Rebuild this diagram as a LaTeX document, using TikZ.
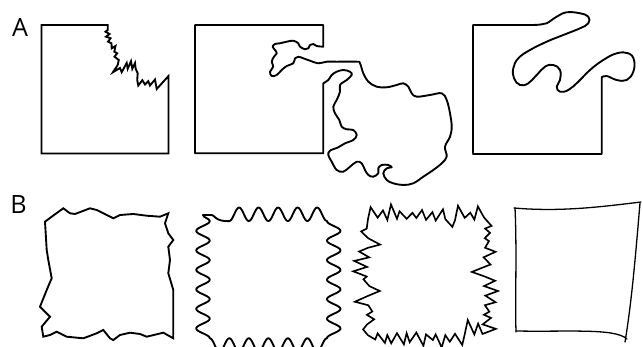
\documentclass[tikz,border=0pt]{standalone}
\usepackage{fontspec}
\setmainfont{Open Sans}
\usetikzlibrary{decorations.pathmorphing}
\def\spk{(rnd<0.7?1:-1)*(4+11*rnd)}
\begin{document}
\begin{tikzpicture}[x=.03cm,y=-.03cm,line cap=round,line join=round,
  outline/.style={line width=1.6pt},
  panel/.style={font=\fontsize{21.5}{25}\selectfont,inner sep=0pt}]
\useasboundingbox (0,0) rectangle (643,347);

\node[panel] (labA) at (20,27) {A};
\node[panel] (labB) at (18.5,204.5) {B};

% row A
\draw[outline,line join=miter] (41.5,153.5) -- (41.5,25) -- (107.7,25) -- plot coordinates {
  (107.7,30) (105.5,31.7) (109.5,34) (106,36.7) (110.5,38.3) (108,41.7) (111.5,43.3)
  (111.7,48.3) (115.5,46) (114.3,51.7) (117.2,53.3) (114.5,56.7) (118.8,60) (117.7,65)
  (113,72.2) (120,68) (121.7,72.2) (126.7,63) (127.7,68.8) (131,61.2) (132.3,68.8)
  (135,63) (135.7,68.8) (137.7,73.3) (137.2,80) (138.3,85.5) (142.3,80.2) (145,84.5)
  (148.3,81.2) (150,85.5) (155,79.5) (156.7,89) (168.5,76)} -- (168.5,153.5) -- cycle;

\draw[outline] (195,25) -- (323.3,25) -- (323.3,46.7) -- plot[smooth,tension=.6] coordinates {
  (323.3,46.7) (316.7,46) (313.3,44) (310,45) (308.3,48.3) (305,49.3) (300,46.7)
  (298.3,43.3) (293.3,40.7) (286.7,41.7) (280,43.3) (275,44) (272.7,46.7) (275,50)
  (276.7,53.3) (274,56.7) (271.7,61.7) (273.3,66.7) (270,71.7) (271.7,76) (276.7,75)
  (281.7,70) (286.7,66) (293.3,63.3) (295,58.3) (298.3,56.7) (303.3,58.3) (310,60.7)
  (318.3,63.3) (326.7,61.7) (336.7,61.7) (356.7,61.7) (360,63.3) (363.3,73.3)
  (368.3,81.7) (376.7,86.7) (386.7,87.3) (396.7,85) (403.3,83.3) (408.3,86.7)
  (411.7,93.3) (416.7,96.7) (430,95) (441.7,93.3) (446.7,100) (450,113.3) (451.7,126.7)
  (450,136.7) (445,146.7) (446.7,156.7) (441.7,163.3) (433.3,170) (423.3,176.7)
  (413.3,183.3) (403.3,185) (393.3,183.3) (386.7,180) (383.3,173.3) (386.7,168.3)
  (391.7,167.3) (388.3,165) (381.7,165) (378.3,168.3) (378.3,173.3) (373.3,176.7)
  (368.3,175) (365,170) (361.7,163.3) (356.7,161.7) (350,166.7) (343.3,171.7)
  (336.7,170) (331.7,161.7) (328.3,155) (330,150.7) (338.3,147.3) (345,143.3)
  (353.3,140) (356.7,135) (353.3,130) (346.7,129.3) (341.7,126.7) (339.3,120)
  (335,113.3) (333.3,106.7) (336.7,100) (340,91.7) (340,85) (346.7,80) (351.7,75)
  (350,71.7) (343.3,70) (336.7,71.7) (331.7,75) (328.3,80) (323.3,83.3)}
  -- (323.3,153.3) -- (195,153.3) -- cycle;

\draw[outline] (473,154) -- (473,25) -- (532,25) -- plot[smooth,tension=.7] coordinates {
  (532,25) (540,24.6) (546.7,23.3) (556.7,16.7) (566.7,12.3) (580,13.3) (588.3,16.7)
  (588.3,23.3) (580,28.3) (563.3,35) (546.7,41.7) (530,50) (518.3,58.3) (513.3,68.3)
  (514,78.3) (520,85) (528.3,83.3) (536.7,75) (545,66.7) (553.3,65) (560,70) (560,80)
  (556.7,86.7) (560,91.7) (568.3,90) (578.3,81.7) (590,70) (603.3,60) (616.7,53.3)
  (628.3,53.3) (634,60) (633.3,71.7) (626.7,80) (616.7,80) (606.7,76) (601.7,77.3)}
  -- (601.7,154) -- cycle;

% row B
\draw[outline,line join=miter] plot coordinates {
  (45,221.7) (51.7,216.7) (63.3,208.3) (70,213.3) (75,214) (90,208.3) (96.7,210)
  (103.3,213.3) (113.3,218.3) (120,215) (133.3,214) (146.7,215.7) (160,216.7)
  (168.3,213.3) (165,223.3) (168.3,233.3) (173.3,240) (168.3,246.7) (170,260)
  (168.3,273.3) (173.3,290) (173.3,323.3) (173.3,338.3) (163.3,332.7) (146.7,336.7)
  (140,334) (130,332.7) (120,335) (113.3,340) (110,338.3) (103.3,330) (96.7,333.3)
  (83.3,338.3) (66.7,336.7) (56.7,331.7) (50,335) (43.3,336.7) (41.7,326.7) (50,316.7)
  (40,306.7) (46.7,290) (51.7,278.3) (48.3,260) (46.7,250)} -- cycle;

\draw[outline,decorate,decoration={snake,segment length=16.66pt,amplitude=5.8pt}]
  (203,215) rectangle (323,330);

\pgfmathsetseed{5}
\draw[line width=1.4pt,line join=miter] (368,219)
  \foreach \i in {1,...,12} { -- ({368+(\i-.5)*9.67+5*rnd-2.5},{219-\spk}) -- ({368+\i*9.67},{219+3*rnd-1.5}) }
  \foreach \i in {1,...,12} { -- ({484+\spk},{219+(\i-.5)*9.58+5*rnd-2.5}) -- ({484+3*rnd-1.5},{219+\i*9.58}) }
  \foreach \i in {1,...,12} { -- ({484-(\i-.5)*9.67+5*rnd-2.5},{334+\spk}) -- ({484-\i*9.67},{334+3*rnd-1.5}) }
  \foreach \i in {1,...,11} { -- ({368-\spk},{334-(\i-.5)*9.58+5*rnd-2.5}) -- ({368+3*rnd-1.5},{334-\i*9.58}) }
  -- cycle;

\draw[line width=1.1pt] (514,208) .. controls (560,212) and (600,207) .. (641,202);
\draw[line width=1.1pt] (640,203) .. controls (636,250) and (632,300) .. (625,342);
\draw[line width=1.1pt] (516,331) .. controls (570,332) and (615,328) .. (627,339);
\draw[line width=1.1pt] (515,208) .. controls (517,250) and (515,300) .. (516,332);
\end{tikzpicture}
\end{document}
